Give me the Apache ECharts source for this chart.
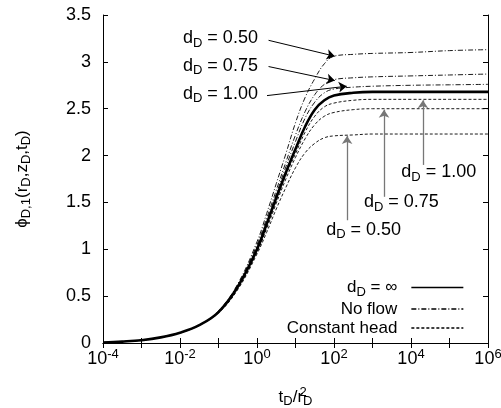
<!DOCTYPE html>
<html lang="en" style="height: 100%">
<head>
  <meta charset="utf-8" />
</head>
<body style="height: 100%; margin: 0">
  <div id="container" style="height: 408px; width: 501px;"></div>
  <script type="text/javascript" src="https://cdn.jsdelivr.net/npm/echarts@6/dist/echarts.min.js"></script>
  <script type="text/javascript">
    // exponents of tD/rD^2 (log10)
    var logT = [-4, -3.5, -3, -2.5, -2, -1.5, -1, -0.5, 0, 0.25, 0.5, 0.75, 1, 1.25, 1.5, 1.75, 2, 2.5, 3, 4, 5, 6];

    // d_D = infinity
    var phiInf = [0.005, 0.015, 0.03, 0.06, 0.11, 0.19, 0.33, 0.60, 1.0, 1.27, 1.55, 1.82, 2.07, 2.31, 2.49, 2.59, 2.64, 2.67, 2.68, 2.68, 2.68, 2.68];
    // no flow boundary
    var noFlow050 = [0.005, 0.015, 0.03, 0.06, 0.11, 0.19, 0.34, 0.63, 1.08, 1.38, 1.70, 2.02, 2.35, 2.62, 2.82, 2.98, 3.06, 3.08, 3.09, 3.10, 3.12, 3.13];
    var noFlow075 = [0.005, 0.015, 0.03, 0.06, 0.11, 0.19, 0.34, 0.62, 1.05, 1.33, 1.63, 1.93, 2.22, 2.47, 2.65, 2.76, 2.81, 2.83, 2.84, 2.85, 2.86, 2.87];
    var noFlow100 = [0.005, 0.015, 0.03, 0.06, 0.11, 0.19, 0.33, 0.61, 1.03, 1.30, 1.59, 1.88, 2.15, 2.40, 2.57, 2.67, 2.71, 2.73, 2.74, 2.75, 2.755, 2.76];
    // constant head boundary
    var constHead100 = [0.005, 0.015, 0.03, 0.06, 0.11, 0.19, 0.33, 0.59, 0.98, 1.24, 1.52, 1.79, 2.02, 2.25, 2.42, 2.52, 2.56, 2.59, 2.60, 2.60, 2.60, 2.60];
    var constHead075 = [0.005, 0.015, 0.03, 0.06, 0.11, 0.19, 0.33, 0.58, 0.97, 1.22, 1.49, 1.75, 1.98, 2.18, 2.33, 2.42, 2.46, 2.49, 2.50, 2.50, 2.50, 2.50];
    var constHead050 = [0.005, 0.015, 0.03, 0.06, 0.11, 0.19, 0.32, 0.57, 0.95, 1.18, 1.43, 1.66, 1.87, 2.03, 2.13, 2.19, 2.21, 2.22, 2.23, 2.23, 2.23, 2.23];

    var xTicks = [-4, -2, 0, 2, 4, 6];
    var yTicks = [0, 0.5, 1, 1.5, 2, 2.5, 3, 3.5];
    var legendNames = ['inf', 'No flow', 'Constant head'];

    // annotation arrows: [from log t, from phi, to log t, to phi]
    var leftArrows = [
      [0.30, 3.23, 2.02, 3.06],
      [0.30, 2.95, 2.02, 2.80],
      [0.26, 2.64, 2.33, 2.74]
    ];
    var leftLabels = [['0.50', -0.95, 3.25], ['0.75', -0.95, 2.96], ['1.00', -0.95, 2.66]];
    var upArrows = [
      [4.31, 1.90, 4.31, 2.59],
      [3.30, 1.56, 3.30, 2.49],
      [2.34, 1.31, 2.34, 2.21]
    ];
    var rightLabels = [['1.00', 4.72, 1.82], ['0.75', 3.75, 1.50], ['0.50', 2.77, 1.21]];

    var FONT = "'Liberation Sans', Arial, sans-serif";

    function pairs(vals) {
      return logT.map(function (e, i) { return [Math.pow(10, e), vals[i]]; });
    }

    var dom = document.getElementById("container");
    var myChart = echarts.init(dom, null, { renderer: "canvas" });

    var subRich = {
      sub: { fontSize: 13, fontFamily: FONT, color: '#000', padding: [9, 0, 0, 0] },
      sup: { fontSize: 13, fontFamily: FONT, color: '#000', padding: [0, 0, 9, 0] },
      sup0: { fontSize: 13, fontFamily: FONT, color: '#000', padding: [0, 0, 9, 0], width: 0, align: 'left' }
    };

    var dashDot = [5, 2, 1, 2];
    var dashed = [3, 2];

    function curve(name, vals, style, width, z) {
      return {
        name: name,
        type: 'line',
        data: pairs(vals),
        showSymbol: false,
        symbol: 'none',
        smooth: 0.4,
        z: z || 2,
        lineStyle: { color: '#000', width: width, type: style },
        itemStyle: { color: '#000' },
        emphasis: { disabled: true },
        silent: true
      };
    }

    var main = curve('inf', phiInf, 'solid', 2.6, 5);
    main.markLine = {
      silent: true,
      symbol: ['none', 'arrow'],
      symbolSize: 8,
      label: { show: false },
      emphasis: { disabled: true },
      data: leftArrows.map(function (a) {
        return [
          { coord: [Math.pow(10, a[0]), a[1]], lineStyle: { color: '#000', width: 1, type: 'solid' } },
          { coord: [Math.pow(10, a[2]), a[3]] }
        ];
      }).concat(upArrows.map(function (a) {
        return [
          { coord: [Math.pow(10, a[0]), a[1]], lineStyle: { color: '#777', width: 1.3, type: 'solid' } },
          { coord: [Math.pow(10, a[2]), a[3]] }
        ];
      }))
    };

    var option = {
      animation: false,
      grid: { left: 103, right: 13, top: 15, bottom: 65, outerBoundsMode: 'none', containLabel: false },
      legend: {
        orient: 'vertical',
        right: 37,
        top: 279,
        padding: 0,
        align: 'right',
        itemWidth: 52,
        itemHeight: 10,
        itemGap: 2,
        data: legendNames,
        selectedMode: false,
        itemStyle: { color: 'rgba(0,0,0,0)', borderWidth: 0 },
        lineStyle: { width: 1.3 },
        formatter: function (name) {
          return name === 'inf' ? 'd{sub|D} = \u221e' : name;
        },
        textStyle: {
          fontSize: 17,
          fontFamily: FONT,
          color: '#000',
          padding: [0, 9, 0, 0],
          rich: subRich
        }
      },
      xAxis: [
        {
          type: 'log',
          logBase: 10,
          min: 1e-4,
          max: 1e6,
          splitNumber: 10,
          name: 't{sub|D}/r{sup0|2}{sub|D}',
          nameLocation: 'middle',
          nameGap: 43,
          nameTextStyle: { fontSize: 17, fontFamily: FONT, color: '#000', rich: subRich },
          axisLine: { show: true, lineStyle: { color: '#000', width: 1 } },
          axisTick: { inside: true, length: 5, lineStyle: { color: '#000' } },
          splitLine: { show: false },
          axisLabel: {
            margin: 5,
            fontSize: 18,
            fontFamily: FONT,
            color: '#000',
            rich: subRich,
            formatter: function (v) {
              var e = Math.round(Math.log(v) / Math.LN10);
              if (xTicks.indexOf(e) < 0) return '';
              return '10{sup|' + e + '}';
            }
          }
        },
        {
          type: 'log',
          logBase: 10,
          min: 1e-4,
          max: 1e6,
          splitNumber: 10,
          position: 'top',
          axisLine: { show: true, lineStyle: { color: '#000', width: 1 } },
          axisTick: { inside: true, length: 5, lineStyle: { color: '#000' } },
          axisLabel: { show: false },
          splitLine: { show: false }
        }
      ],
      yAxis: [
        {
          type: 'value',
          min: yTicks[0],
          max: yTicks[yTicks.length - 1],
          interval: 0.5,
          name: '\u03d5{sub|D,1}(r{sub|D},z{sub|D},t{sub|D})',
          nameLocation: 'middle',
          nameGap: 70,
          nameTextStyle: { fontSize: 17, fontFamily: FONT, color: '#000', rich: subRich },
          axisLine: { show: true, lineStyle: { color: '#000', width: 1 } },
          axisTick: { inside: true, length: 5, lineStyle: { color: '#000' } },
          splitLine: { show: false },
          axisLabel: { margin: 12, fontSize: 18, fontFamily: FONT, color: '#000' }
        },
        {
          type: 'value',
          min: yTicks[0],
          max: yTicks[yTicks.length - 1],
          interval: 0.5,
          position: 'right',
          axisLine: { show: true, lineStyle: { color: '#000', width: 1 } },
          axisTick: { inside: true, length: 5, lineStyle: { color: '#000' } },
          axisLabel: { show: false },
          splitLine: { show: false }
        }
      ],
      series: [
        main,
        curve('No flow', noFlow050, dashDot, 0.9),
        curve('No flow', noFlow075, dashDot, 0.9),
        curve('No flow', noFlow100, dashDot, 0.9),
        curve('Constant head', constHead100, dashed, 0.9),
        curve('Constant head', constHead075, dashed, 0.9),
        curve('Constant head', constHead050, dashed, 0.9)
      ]
    };

    myChart.setOption(option);

    // text labels placed through the chart's own coordinate system
    function labelAt(txt, lt, phi) {
      var p = myChart.convertToPixel({ xAxisIndex: 0, yAxisIndex: 0 }, [Math.pow(10, lt), phi]);
      return {
        type: 'text',
        x: p[0],
        y: p[1],
        silent: true,
        style: {
          text: 'd{sub|D} = ' + txt,
          align: 'center',
          verticalAlign: 'middle',
          fontSize: 18,
          fontFamily: FONT,
          fill: '#000',
          rich: subRich
        }
      };
    }

    myChart.setOption({
      graphic: leftLabels.concat(rightLabels).map(function (l) {
        return labelAt(l[0], l[1], l[2]);
      })
    });

    window.addEventListener("resize", myChart.resize);
  </script>
</body>
</html>
